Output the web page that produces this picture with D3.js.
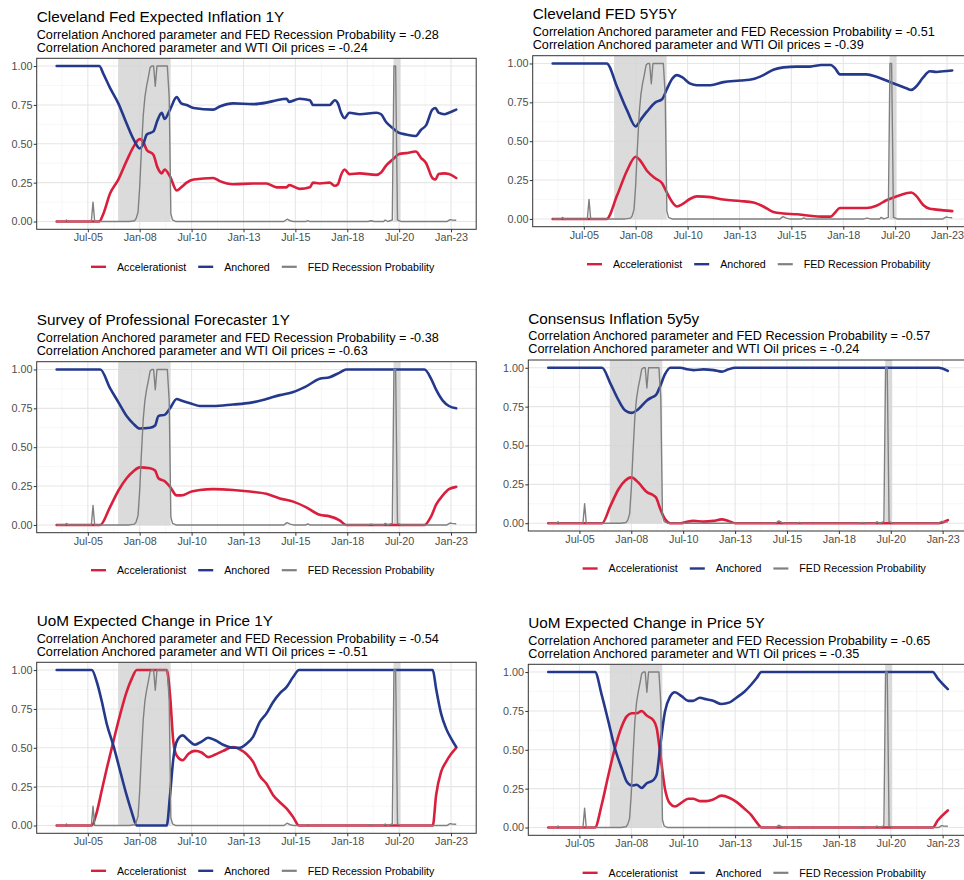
<!DOCTYPE html>
<html><head><meta charset="utf-8">
<script src="https://cdn.jsdelivr.net/npm/d3@7"></script>
<style>
body{margin:0;background:#fff}
svg{display:block}
text{font-family:"Liberation Sans",Arial,Helvetica,sans-serif}
</style>
</head><body>
<svg id="chart" width="964" height="880"></svg>
<script>
// ---------------- DATA ----------------
const seriesNames = ["Accelerationist", "Anchored", "FED Recession Probability"];
const tickLabels = ["Jul-05", "Jan-08", "Jul-10", "Jan-13", "Jul-15", "Jan-18", "Jul-20", "Jan-23"];
const tickYears  = [2005.5, 2008.0, 2010.5, 2013.0, 2015.5, 2018.0, 2020.5, 2023.0];
const yTicks = [0, 0.25, 0.5, 0.75, 1];
const yTickLabels = ["0.00", "0.25", "0.50", "0.75", "1.00"];
const dataStart = 2004.0, dataEnd = 2023.25;

// shaded periods (decimal years)
const shadeStart = [2006.96, 2020.23];
const shadeEnd   = [2009.49, 2020.57];

// FED smoothed recession probability (shared by all panels)
const recT = [2004.0, 2004.4, 2004.47, 2004.55, 2005.67, 2005.75, 2005.83, 2007.5, 2007.75, 2007.83, 2007.92,
  2008.0, 2008.08, 2008.17, 2008.25, 2008.33, 2008.42, 2008.5, 2008.58, 2008.67, 2008.75, 2008.83, 2008.92,
  2009.33, 2009.42, 2009.5, 2009.58, 2009.75, 2014.95, 2015.1, 2015.25, 2015.4, 2016.0, 2016.1, 2016.2,
  2019.0, 2019.15, 2019.3, 2019.75, 2019.83, 2019.95, 2020.17, 2020.25, 2020.33, 2020.42, 2020.6,
  2022.8, 2022.95, 2023.05, 2023.25];
const recP = [0.0, 0.0, 0.01, 0.0, 0.0, 0.125, 0.0, 0.0, 0.005, 0.02, 0.06,
  0.22, 0.45, 0.68, 0.80, 0.87, 0.93, 0.99, 1.0, 1.0, 0.87, 1.0, 1.0,
  1.0, 0.80, 0.05, 0.01, 0.0, 0.0, 0.015, 0.005, 0.0, 0.0, 0.006, 0.0,
  0.0, 0.005, 0.0, 0.0, 0.01, 0.0, 0.01, 1.0, 1.0, 0.01, 0.0,
  0.0, 0.012, 0.01, 0.008];

const titles = [
  "Cleveland Fed Expected Inflation 1Y",
  "Cleveland FED 5Y5Y",
  "Survey of Professional Forecaster 1Y",
  "Consensus Inflation 5y5y",
  "UoM Expected Change in Price 1Y",
  "UoM Expected Change in Price 5Y"
];
const corrRecession = ["-0.28", "-0.51", "-0.38", "-0.57", "-0.54", "-0.65"];
const corrOil       = ["-0.24", "-0.39", "-0.63", "-0.24", "-0.51", "-0.35"];

// Panel 1: Cleveland Fed Expected Inflation 1Y
const p1T = [2004.0, 2006.05, 2006.25, 2006.57, 2006.97, 2007.37, 2007.7, 2008.0, 2008.18, 2008.34, 2008.66,
  2008.85, 2009.06, 2009.2, 2009.46, 2009.78, 2010.0, 2010.26, 2010.6, 2011.54, 2011.86, 2012.5, 2013.46, 2014.1,
  2014.6, 2015.07, 2015.2, 2015.7, 2016.2, 2016.35, 2016.67, 2017.15, 2017.4, 2017.55, 2017.7, 2017.87,
  2018.1, 2018.6, 2019.4, 2019.63, 2019.87, 2020.2, 2020.5, 2020.83, 2021.3, 2021.55, 2021.8, 2022.1,
  2022.25, 2022.4, 2022.68, 2022.9, 2023.25];
const p1Anc = [1.0, 1.0, 0.95, 0.86, 0.76, 0.63, 0.53, 0.47, 0.50, 0.56, 0.58,
  0.65, 0.70, 0.66, 0.72, 0.80, 0.76, 0.75, 0.73, 0.72, 0.74, 0.76, 0.755, 0.765,
  0.78, 0.79, 0.77, 0.79, 0.78, 0.75, 0.75, 0.75, 0.78, 0.76, 0.70, 0.665,
  0.70, 0.69, 0.70, 0.69, 0.64, 0.60, 0.57, 0.56, 0.55, 0.59, 0.62, 0.72,
  0.73, 0.70, 0.69, 0.70, 0.72];
const p1Acc = [0.0, 0.0, 0.05, 0.18, 0.27, 0.39, 0.48, 0.53, 0.51, 0.46, 0.43,
  0.35, 0.31, 0.335, 0.29, 0.20, 0.22, 0.25, 0.27, 0.28, 0.26, 0.24, 0.245, 0.245,
  0.22, 0.22, 0.235, 0.21, 0.22, 0.25, 0.245, 0.25, 0.23, 0.24, 0.30, 0.335,
  0.305, 0.31, 0.30, 0.315, 0.36, 0.40, 0.435, 0.44, 0.45, 0.41, 0.375, 0.28,
  0.27, 0.305, 0.31, 0.305, 0.28];

// Panel 2: Cleveland FED 5Y5Y
const p2T = [2004.0, 2006.6, 2007.1, 2007.58, 2008.0, 2008.22, 2008.54, 2008.95, 2009.27, 2009.5, 2009.75,
  2009.99, 2010.25, 2010.63, 2010.95, 2011.6, 2012.23, 2013.03, 2013.67, 2014.15, 2014.63, 2015.12, 2015.76,
  2016.4, 2016.95, 2017.4, 2017.6, 2017.84, 2018.16, 2019.12, 2019.6, 2020.08, 2020.56, 2021.04, 2021.28,
  2021.5, 2021.85, 2022.17, 2022.5, 2022.82, 2023.25];
const p2Anc = [1.0, 1.0, 0.85, 0.70, 0.595, 0.635, 0.69, 0.75, 0.77, 0.835, 0.90,
  0.925, 0.91, 0.87, 0.86, 0.86, 0.88, 0.89, 0.90, 0.925, 0.96, 0.975, 0.98,
  0.98, 0.99, 0.99, 0.97, 0.93, 0.93, 0.93, 0.915, 0.89, 0.865, 0.84, 0.83,
  0.85, 0.91, 0.95, 0.945, 0.95, 0.955];
const p2Acc = [0.0, 0.0, 0.15, 0.31, 0.40, 0.375, 0.31, 0.26, 0.23, 0.17, 0.11,
  0.08, 0.095, 0.13, 0.145, 0.14, 0.125, 0.115, 0.105, 0.08, 0.045, 0.035, 0.03,
  0.02, 0.015, 0.015, 0.04, 0.07, 0.07, 0.07, 0.085, 0.12, 0.145, 0.165, 0.17,
  0.15, 0.09, 0.065, 0.06, 0.055, 0.05];

// Panel 3: Survey of Professional Forecaster 1Y
const p3T = [2004.0, 2006.1, 2006.57, 2006.97, 2007.37, 2007.7, 2008.0, 2008.5, 2008.74, 2008.9, 2009.22,
  2009.46, 2009.78, 2010.0, 2010.5, 2010.9, 2011.54, 2012.5, 2013.3, 2014.1, 2014.75, 2015.4, 2016.0,
  2016.67, 2017.15, 2017.63, 2017.95, 2021.72, 2022.04, 2022.28, 2022.6, 2022.9, 2023.25];
const p3Anc = [1.0, 1.0, 0.88, 0.79, 0.70, 0.65, 0.62, 0.625, 0.64, 0.70, 0.71,
  0.75, 0.81, 0.80, 0.78, 0.765, 0.765, 0.775, 0.785, 0.81, 0.835, 0.855, 0.89,
  0.94, 0.95, 0.98, 1.0, 1.0, 0.94, 0.87, 0.80, 0.765, 0.75];
const p3Acc = [0.0, 0.0, 0.115, 0.22, 0.30, 0.345, 0.37, 0.365, 0.35, 0.30, 0.28,
  0.245, 0.19, 0.19, 0.215, 0.225, 0.23, 0.225, 0.215, 0.20, 0.17, 0.15, 0.115,
  0.065, 0.055, 0.03, 0.0, 0.0, 0.055, 0.13, 0.19, 0.23, 0.245];

// Panel 4: Consensus Inflation 5y5y
const p4T = [2004.0, 2006.59, 2006.99, 2007.39, 2007.71, 2008.0, 2008.35, 2008.75, 2008.99, 2009.19, 2009.4,
  2009.63, 2009.88, 2010.36, 2010.68, 2011.0, 2011.48, 2011.96, 2012.36, 2012.68, 2013.0, 2022.8, 2023.25];
const p4Anc = [1.0, 1.0, 0.90, 0.79, 0.725, 0.71, 0.735, 0.79, 0.81, 0.825, 0.885,
  0.96, 1.0, 1.0, 0.99, 0.985, 0.99, 0.985, 0.975, 0.99, 1.0, 1.0, 0.98];
const p4Acc = [0.0, 0.0, 0.11, 0.22, 0.275, 0.295, 0.26, 0.20, 0.185, 0.165, 0.09,
  0.025, 0.0, 0.0, 0.01, 0.015, 0.01, 0.015, 0.025, 0.015, 0.0, 0.0, 0.02];

// Panel 5: UoM Expected Change in Price 1Y
const p5T = [2004.0, 2005.69, 2005.93, 2006.17, 2006.41, 2006.73, 2007.05, 2007.37, 2007.62, 2007.86, 2009.3,
  2009.46, 2009.62, 2009.78, 2010.07, 2010.34, 2010.66, 2010.98, 2011.3, 2011.62, 2012.02, 2012.5, 2012.82,
  2013.14, 2013.46, 2013.78, 2014.1, 2014.43, 2014.75, 2015.07, 2015.39, 2015.68, 2022.12, 2022.28, 2022.52,
  2022.76, 2023.0, 2023.25];
const p5Anc = [1.0, 1.0, 0.925, 0.80, 0.655, 0.515, 0.355, 0.195, 0.085, 0.0, 0.0,
  0.195, 0.43, 0.54, 0.58, 0.55, 0.52, 0.54, 0.565, 0.55, 0.52, 0.50, 0.50,
  0.525, 0.57, 0.665, 0.72, 0.795, 0.85, 0.89, 0.955, 1.0, 1.0, 0.88, 0.72,
  0.625, 0.56, 0.505];
const p5Acc = [0.0, 0.0, 0.085, 0.225, 0.365, 0.54, 0.71, 0.86, 0.945, 1.0, 1.0,
  0.84, 0.54, 0.45, 0.42, 0.46, 0.48, 0.47, 0.44, 0.455, 0.48, 0.505, 0.49,
  0.46, 0.41, 0.32, 0.27, 0.195, 0.15, 0.11, 0.055, 0.0, 0.0, 0.195, 0.345,
  0.41, 0.46, 0.50];

// Panel 6: UoM Expected Change in Price 5Y
const p6T = [2004.0, 2006.25, 2006.57, 2006.9, 2007.21, 2007.54, 2007.78, 2008.02, 2008.26, 2008.5, 2008.74,
  2009.06, 2009.22, 2009.38, 2009.62, 2009.86, 2010.1, 2010.42, 2010.74, 2010.98, 2011.3, 2011.62, 2011.94,
  2012.34, 2012.74, 2013.06, 2013.46, 2013.78, 2014.03, 2014.27, 2022.52, 2022.76, 2023.25];
const p6Anc = [1.0, 1.0, 0.855, 0.68, 0.51, 0.38, 0.295, 0.27, 0.275, 0.255, 0.285,
  0.305, 0.34, 0.51, 0.745, 0.84, 0.87, 0.845, 0.815, 0.815, 0.835, 0.825, 0.815,
  0.795, 0.805, 0.835, 0.875, 0.92, 0.96, 1.0, 1.0, 0.96, 0.89];
const p6Acc = [0.0, 0.0, 0.145, 0.34, 0.51, 0.65, 0.715, 0.735, 0.735, 0.75, 0.72,
  0.69, 0.64, 0.49, 0.25, 0.155, 0.135, 0.16, 0.185, 0.185, 0.17, 0.17, 0.18,
  0.205, 0.19, 0.165, 0.12, 0.08, 0.035, 0.0, 0.0, 0.045, 0.11];

const panelT   = [p1T, p2T, p3T, p4T, p5T, p6T];
const panelAcc = [p1Acc, p2Acc, p3Acc, p4Acc, p5Acc, p6Acc];
const panelAnc = [p1Anc, p2Anc, p3Anc, p4Anc, p5Anc, p6Anc];

// ---------------- LAYOUT / STYLE ----------------
const layout = [
  {left: 36.7, top: 58.3},
  {left: 532.7, top: 55.7},
  {left: 36.7, top: 361.7},
  {left: 528.3, top: 360.0},
  {left: 36.7, top: 662.3},
  {left: 528.3, top: 664.3}
];
const PW = 439.5, PH = 171;
const colors = {"Accelerationist": "#DA1F3D", "Anchored": "#24398C", "FED Recession Probability": "#808080"};

function yd(v) {
  const yr = Math.floor(v);
  const a = new Date(yr, 0, 1), b = new Date(yr + 1, 0, 1);
  return new Date(+a + (v - yr) * (b - a));
}

const svg = d3.select("#chart");
const pad = (dataEnd - dataStart) * 0.05;
const x = d3.scaleTime().domain([yd(dataStart - pad), yd(dataEnd + pad)]).range([0, PW]);
const y = d3.scaleLinear().domain([-0.05, 1.05]).range([PH, 0]);

// minor breaks: midpoints between major breaks
const minorYears = [];
const step = tickYears[1] - tickYears[0];
const allMajor = [tickYears[0] - step, ...tickYears, tickYears[tickYears.length - 1] + step];
for (let i = 0; i < allMajor.length - 1; i++) minorYears.push((allMajor[i] + allMajor[i + 1]) / 2);
const yMinor = [0.125, 0.375, 0.625, 0.875];

layout.forEach((L, i) => {
  const g = svg.append("g").attr("transform", `translate(${L.left},${L.top})`);
  const cid = "clip" + i;
  g.append("clipPath").attr("id", cid).append("rect").attr("width", PW).attr("height", PH);

  // titles
  g.append("text").attr("x", 0).attr("y", -36.3).attr("font-size", 15.3).attr("fill", "#000").text(titles[i]);
  g.append("text").attr("x", 0).attr("y", -19.8).attr("font-size", 12.66).attr("fill", "#000")
    .text(`Correlation Anchored parameter and FED Recession Probability = ${corrRecession[i]}`);
  g.append("text").attr("x", 0).attr("y", -6.6).attr("font-size", 12.66).attr("fill", "#000")
    .text(`Correlation Anchored parameter and WTI Oil prices = ${corrOil[i]}`);

  const pg = g.append("g").attr("clip-path", `url(#${cid})`);
  // grid minor
  pg.selectAll(".gxm").data(minorYears).join("line")
    .attr("x1", d => x(yd(d))).attr("x2", d => x(yd(d))).attr("y1", 0).attr("y2", PH)
    .attr("stroke", "#F2F2F2").attr("stroke-width", 0.6);
  pg.selectAll(".gym").data(yMinor).join("line")
    .attr("x1", 0).attr("x2", PW).attr("y1", d => y(d)).attr("y2", d => y(d))
    .attr("stroke", "#F2F2F2").attr("stroke-width", 0.6);
  // grid major
  pg.selectAll(".gx").data(tickYears).join("line")
    .attr("x1", d => x(yd(d))).attr("x2", d => x(yd(d))).attr("y1", 0).attr("y2", PH)
    .attr("stroke", "#E6E6E6").attr("stroke-width", 1.1);
  pg.selectAll(".gy").data(yTicks).join("line")
    .attr("x1", 0).attr("x2", PW).attr("y1", d => y(d)).attr("y2", d => y(d))
    .attr("stroke", "#E6E6E6").attr("stroke-width", 1.1);

  // shaded periods
  pg.selectAll(".shade").data(shadeStart.map((s, k) => [s, shadeEnd[k]])).join("rect")
    .attr("x", d => x(yd(d[0]))).attr("width", d => x(yd(d[1])) - x(yd(d[0])))
    .attr("y", 0).attr("height", y(0) + 0.5)
    .attr("fill", "#D3D5D4").attr("fill-opacity", 0.85);

  const lineSmooth = d3.line().x(d => x(yd(d[0]))).y(d => y(d[1])).curve(d3.curveMonotoneX);
  const lineLin = d3.line().x(d => x(yd(d[0]))).y(d => y(d[1]));

  const T = panelT[i];
  pg.append("path").datum(T.map((t, k) => [t, panelAcc[i][k]])).attr("d", lineSmooth)
    .attr("fill", "none").attr("stroke", colors["Accelerationist"]).attr("stroke-width", 2.6)
    .attr("stroke-linejoin", "round").attr("stroke-linecap", "round");
  pg.append("path").datum(T.map((t, k) => [t, panelAnc[i][k]])).attr("d", lineSmooth)
    .attr("fill", "none").attr("stroke", colors["Anchored"]).attr("stroke-width", 2.6)
    .attr("stroke-linejoin", "round").attr("stroke-linecap", "round");
  pg.append("path").datum(recT.map((t, k) => [t, recP[k]])).attr("d", lineLin)
    .attr("fill", "none").attr("stroke", colors["FED Recession Probability"]).attr("stroke-width", 1.4)
    .attr("stroke-linejoin", "round");

  // border
  g.append("rect").attr("width", PW).attr("height", PH).attr("fill", "none")
    .attr("stroke", "#333").attr("stroke-width", 1);

  // axes
  const xa = g.append("g").attr("transform", `translate(0,${PH})`)
    .call(d3.axisBottom(x).tickValues(tickYears.map(yd)).tickFormat((d, k) => tickLabels[k]).tickSize(3).tickPadding(1.5));
  xa.select(".domain").remove();
  xa.selectAll("line").attr("stroke", "#333");
  xa.selectAll("text").attr("font-size", 10.8).attr("fill", "#4D4D4D").attr("font-family", null);

  const ya = g.append("g")
    .call(d3.axisLeft(y).tickValues(yTicks).tickFormat((d, k) => yTickLabels[k]).tickSize(3).tickPadding(1.2));
  ya.select(".domain").remove();
  ya.selectAll("line").attr("stroke", "#333");
  ya.selectAll("text").attr("font-size", 10.8).attr("fill", "#4D4D4D").attr("font-family", null);

  // legend
  const lg = g.append("g").attr("transform", `translate(54.3,${PH + 37.5})`);
  let cx = 0;
  seriesNames.forEach(name => {
    lg.append("line").attr("x1", cx).attr("x2", cx + 15).attr("y1", 0).attr("y2", 0)
      .attr("stroke", colors[name]).attr("stroke-width", name === "FED Recession Probability" ? 2.2 : 2.4);
    const t = lg.append("text").attr("x", cx + 26).attr("y", 0).attr("dy", "0.35em")
      .attr("font-size", 10.65).attr("fill", "#000").text(name);
    cx += 26 + t.node().getComputedTextLength() + 12;
  });
});
</script>
</body></html>
